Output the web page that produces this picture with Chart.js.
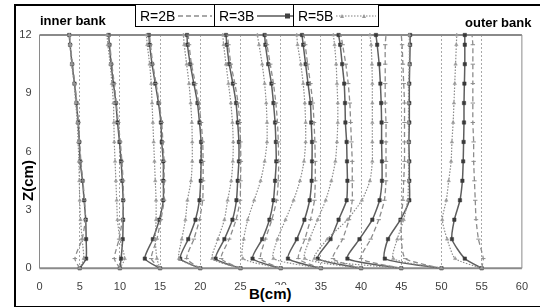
<!DOCTYPE html>
<html>
<head>
<meta charset="utf-8">
<script src="https://cdn.jsdelivr.net/npm/chart.js@4.4.1/dist/chart.umd.min.js"></script>
<style>
  body { margin: 0; width: 540px; height: 307px; overflow: hidden; background: #fff; position: relative; font-family: "Liberation Sans", Arial, sans-serif; }
  #chart { position: absolute; left: 0; top: 0; }
  #frame { position: absolute; left: 14px; top: 4px; width: 540px; height: 300px; border: 2px solid #000; border-right: none; }
  .note { position: absolute; font-weight: bold; font-size: 13px; color: #000; }
  #legend { position: absolute; left: 135px; top: 5px; height: 21px; width: 242px; border: 1px solid #000; border-top: none; background: #fff; }
  .cell { position: absolute; top: 0; height: 21px; display: flex; align-items: center; font-size: 14px; color: #000; }
  .cell span { margin-left: 4px; margin-right: 3px; }
  #ytitle { position: absolute; left: 4px; top: 172px; transform: rotate(-90deg); transform-origin: center; font-weight: bold; font-size: 15px; width: 46px; text-align: center; }
  #xtitle { position: absolute; left: 248px; top: 285px; font-weight: bold; font-size: 15px; background: #fff; padding: 0 1px; line-height: 17px; }
</style>
</head>
<body>
<canvas id="chart" width="540" height="307"></canvas>
<div id="frame"></div>
<div class="note" style="left:40px;top:13px">inner bank</div>
<div class="note" style="left:465px;top:15px">outer bank</div>
<div id="legend">
  <div class="cell" style="left:0;width:78px"><span>R=2B</span>
    <svg width="34" height="10"><line x1="0" y1="5" x2="34" y2="5" stroke="#8c8c8c" stroke-width="1.3" stroke-dasharray="5,3"/></svg></div>
  <div class="cell" style="left:78px;width:79px;border-left:1px solid #000"><span>R=3B</span>
    <svg width="38" height="10"><line x1="0" y1="5" x2="38" y2="5" stroke="#595959" stroke-width="1.5"/><rect x="28" y="2.5" width="5" height="5" fill="#404040"/></svg></div>
  <div class="cell" style="left:157px;width:85px;border-left:1px solid #000"><span>R=5B</span>
    <svg width="40" height="10"><line x1="0" y1="5" x2="40" y2="5" stroke="#808080" stroke-width="1.2" stroke-dasharray="1.5,1.5"/><polygon points="6,3 8,7 4,7" fill="#999"/><polygon points="28,3 30,7 26,7" fill="#999"/></svg></div>
</div>
<div id="ytitle">Z(cm)</div>
<div id="xtitle">B(cm)</div>
<script>
// depth of each measured point
const zLevels = [0, 0.5, 1.5, 2.5, 3.5, 4.5, 5.5, 6.5, 7.5, 8.5, 9.5, 10.5, 11.5, 12];

// profile positions across the channel, each row = one vertical, values = B at each z
const r2B = [
  [5, 4.4, 5.3, 5.7, 5.6, 5.4, 5.15, 5.0, 4.85, 4.65, 4.4, 4.1, 3.85, 3.75],
  [10, 9.3, 9.9, 10.3, 10.45, 10.4, 10.25, 10.05, 9.8, 9.55, 9.3, 9.0, 8.75, 8.65],
  [15, 13.9, 14.6, 15.1, 15.5, 15.5, 15.5, 15.35, 15.2, 14.9, 14.5, 14.1, 13.8, 13.7],
  [20, 18.3, 19.2, 19.9, 20.3, 20.35, 20.35, 20.3, 20.1, 19.8, 19.4, 18.9, 18.6, 18.5],
  [25, 22.6, 23.6, 24.45, 24.95, 25.0, 25.05, 25.0, 24.9, 24.7, 24.3, 23.8, 23.5, 23.4],
  [30, 27.5, 28.1, 28.9, 29.5, 29.7, 29.75, 29.7, 29.6, 29.4, 29.1, 28.7, 28.3, 28.2],
  [35, 32.2, 33.0, 33.7, 34.2, 34.3, 34.3, 34.25, 34.15, 34.0, 33.7, 33.35, 33.05, 32.9],
  [40, 36.5, 37.7, 38.5, 38.9, 38.9, 38.9, 38.8, 38.7, 38.6, 38.4, 38.1, 37.7, 37.5],
  [45, 40.0, 41.2, 42.2, 42.9, 43.1, 43.1, 43.1, 43.1, 43.0, 43.0, 43.0, 43.0, 43.1],
  [50, 45.5, 45.0, 45.0, 45.2, 45.3, 45.4, 45.4, 45.4, 45.4, 45.3, 45.2, 45.1, 45.0],
  [55, 55.2, 54.6, 54.3, 54.2, 54.1, 54.0, 54.0, 53.9, 53.9, 53.9, 53.9, 53.9, 53.8]
];
const r3B = [
  [5, 5.8, 5.8, 5.75, 5.55, 5.35, 5.05, 4.95, 4.8, 4.6, 4.35, 4.05, 3.8, 3.7],
  [10, 10.15, 10.35, 10.4, 10.4, 10.3, 10.15, 9.95, 9.7, 9.5, 9.2, 8.9, 8.7, 8.6],
  [15, 13.1, 14.1, 14.9, 15.4, 15.4, 15.4, 15.2, 15.1, 14.8, 14.4, 14.0, 13.7, 13.6],
  [20, 17.5, 18.5, 19.4, 19.9, 20.05, 20.1, 20.1, 19.9, 19.65, 19.2, 18.75, 18.4, 18.35],
  [25, 21.9, 23.0, 24.0, 24.5, 24.65, 24.8, 24.8, 24.65, 24.45, 24.05, 23.6, 23.3, 23.2],
  [30, 26.5, 27.7, 28.6, 29.1, 29.3, 29.45, 29.4, 29.3, 29.1, 28.85, 28.45, 28.1, 28.0],
  [35, 30.9, 32.0, 32.95, 33.6, 33.85, 33.9, 33.9, 33.8, 33.7, 33.4, 33.1, 32.8, 32.65],
  [40, 34.6, 36.2, 37.2, 38.2, 38.3, 38.25, 38.2, 38.05, 38.0, 37.9, 37.65, 37.4, 37.2],
  [45, 38.3, 39.8, 41.4, 42.3, 42.6, 42.6, 42.55, 42.55, 42.5, 42.4, 42.25, 42.0, 41.85],
  [50, 42.95, 43.35, 44.9, 46.0, 46.0, 46.0, 45.95, 46.0, 46.0, 46.0, 46.05, 46.1, 46.1],
  [55, 52.9, 51.3, 51.6, 52.3, 52.6, 52.7, 52.75, 52.8, 52.8, 52.85, 52.9, 52.9, 52.9]
];
const r5B = [
  [5, 5.5, 5.3, 5.1, 5.0, 4.95, 4.9, 4.8, 4.7, 4.5, 4.3, 4.0, 3.8, 3.7],
  [10, 10.6, 10.0, 9.7, 9.6, 9.5, 9.4, 9.3, 9.25, 9.2, 9.0, 8.8, 8.5, 8.4],
  [15, 14.6, 14.4, 14.5, 14.5, 14.4, 14.3, 14.2, 14.1, 14.0, 13.9, 13.7, 13.4, 13.3],
  [20, 17.35, 17.7, 18.15, 18.4, 18.85, 19.0, 19.0, 18.95, 18.8, 18.6, 18.3, 18.0, 17.9],
  [25, 21.5, 22.2, 23.0, 23.4, 23.85, 24.05, 24.1, 24.0, 23.8, 23.5, 23.2, 22.9, 22.8],
  [30, 25.3, 25.4, 25.9, 26.7, 27.5, 28.0, 28.3, 28.3, 28.2, 28.0, 27.7, 27.3, 27.1],
  [35, 29.1, 29.6, 30.6, 31.6, 32.4, 32.9, 33.1, 33.1, 33.0, 32.8, 32.5, 32.1, 32.0],
  [40, 33.0, 33.6, 34.6, 35.6, 36.3, 36.8, 37.0, 37.1, 37.1, 37.0, 36.9, 36.7, 36.55],
  [45, 34.2, 35.8, 38.3, 40.1, 41.1, 41.4, 41.4, 41.4, 41.4, 41.4, 41.35, 41.25, 41.1],
  [50, 44.0, 44.5, 45.3, 45.8, 45.9, 45.9, 45.9, 45.9, 45.9, 45.9, 46.0, 46.0, 46.0],
  [55, 51.7, 50.7, 50.1, 50.6, 50.9, 51.2, 51.3, 51.45, 51.55, 51.65, 51.75, 51.85, 51.9]
];

// axis ranges
const xRange = [0, 60, 5];
const yRange = [0, 12, 3];

// STYLES
const look = {
  r5B: { borderColor: '#8a8a8a', borderWidth: 1.2, borderDash: [1.5, 1.5], pointStyle: 'triangle', pointRadius: 2, pointBackgroundColor: '#9a9a9a', pointBorderColor: '#9a9a9a', pointBorderWidth: 0.5 },
  r2B: { borderColor: '#8c8c8c', borderWidth: 1.3, borderDash: [5, 3], pointStyle: 'line', pointRadius: 2.2, pointBorderColor: '#8c8c8c', pointBorderWidth: 1 },
  r3B: { borderColor: '#5e5e5e', borderWidth: 1.5, borderDash: [], pointStyle: 'rect', pointRadius: 2.4, pointBackgroundColor: '#3a3a3a', pointBorderColor: '#3a3a3a', pointBorderWidth: 0.5 }
};

function toPoints(xs) {
  return xs.map((x, i) => ({ x: x, y: zLevels[i] }));
}

const datasets = [];
[['r5B', r5B], ['r2B', r2B], ['r3B', r3B]].forEach(([key, rows]) => {
  rows.forEach(row => {
    datasets.push(Object.assign({
      label: key,
      data: toPoints(row),
      showLine: true,
      fill: false,
      tension: 0.2,
      clip: 6
    }, look[key]));
  });
});

// plot frame (gray box around the plot area)
const framePlugin = {
  id: 'frame',
  beforeDatasetsDraw(chart) {
    const { ctx, chartArea: a } = chart;
    ctx.save();
    ctx.strokeStyle = '#8a8a8a';
    ctx.lineWidth = 1;
    ctx.beginPath();
    ctx.moveTo(a.right, a.top);
    ctx.lineTo(a.right, a.bottom);
    ctx.moveTo(a.left, a.top);
    ctx.lineTo(a.left, a.bottom);
    ctx.stroke();
    ctx.lineWidth = 2;
    ctx.beginPath();
    ctx.moveTo(a.left, a.top);
    ctx.lineTo(a.right, a.top);
    ctx.moveTo(a.left, a.bottom);
    ctx.lineTo(a.right, a.bottom);
    ctx.stroke();
    ctx.restore();
  }
};

new Chart(document.getElementById('chart'), {
  type: 'scatter',
  data: { datasets: datasets },
  options: {
    responsive: false,
    animation: false,
    layout: { padding: { top: 35, right: 8.5, left: 0, bottom: 0 } },
    plugins: { legend: { display: false }, tooltip: { enabled: false } },
    scales: {
      x: {
        type: 'linear', min: xRange[0], max: xRange[1],
        afterFit: s => { s.height = 38.7; },
        ticks: { stepSize: xRange[2], padding: 12, color: '#404040', font: { family: 'Liberation Sans', size: 11 } },
        grid: {
          drawTicks: false,
          color: c => (c.tick && c.tick.value > 0 && c.tick.value < 60) ? '#a8a8a8' : 'rgba(0,0,0,0)',
          lineWidth: 1
        },
        border: { display: false, dash: [2, 2] }
      },
      y: {
        type: 'linear', min: yRange[0], max: yRange[1],
        afterFit: s => { s.width = 39.5; },
        ticks: { stepSize: yRange[2], padding: 8, color: '#404040', font: { family: 'Liberation Sans', size: 11 } },
        grid: { display: false, drawTicks: false },
        border: { display: false }
      }
    }
  },
  plugins: [framePlugin]
});
</script>
</body>
</html>
